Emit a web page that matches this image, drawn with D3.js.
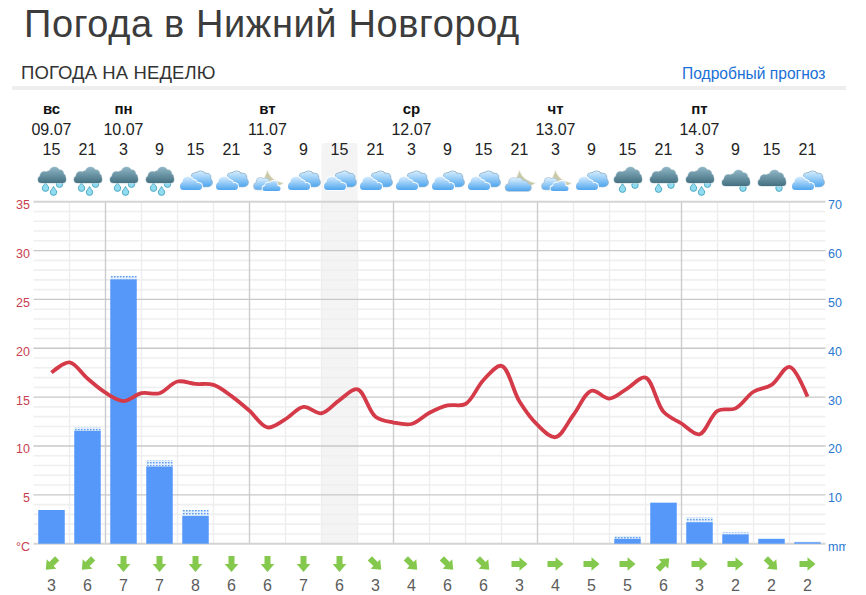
<!DOCTYPE html>
<html>
<head>
<meta charset="utf-8">
<script src="https://d3js.org/d3.v7.min.js"></script>
<style>
    html, body { margin: 0; padding: 0; background: #fff; overflow: hidden; }
    svg { display: block; font-family: "Liberation Sans", Arial, sans-serif; }
</style>
</head>
<body>
<svg id="chart" width="866" height="595"></svg>
<script>
    // подписи сверху
    let hours = [15, 21, 3, 9, 15, 21, 3, 9, 15, 21, 3, 9, 15, 21, 3, 9, 15, 21, 3, 9, 15, 21]
    let dayNames = ["вс", "пн", "вт", "ср", "чт", "пт"]
    let dayDates = ["09.07", "10.07", "11.07", "12.07", "13.07", "14.07"]
    let dayStart = [0, 2, 6, 10, 14, 18]
    let icons = ["rain3", "rain3", "rain3", "rain3", "cloud", "cloud", "moon2", "cloud", "cloud", "cloud", "cloud",
        "cloud", "cloud", "moon1", "moon2", "cloud", "rain2", "rain2", "rain3", "rain1", "rain1", "cloud"]

    // температура, шаг 3 часа (половина колонки)
    let temperature = [17.5, 18.55, 16.9, 15.45, 14.6, 15.4, 15.4, 16.6, 16.35, 16.25, 15.1, 13.6, 11.9, 12.75, 14.0,
        13.35, 14.7, 15.8, 13.0, 12.4, 12.25, 13.4, 14.15, 14.3, 16.75, 18.2, 14.55, 12.15, 10.9, 13.2, 15.65,
        14.85, 15.9, 17.0, 13.5, 12.3, 11.2, 13.6, 13.85, 15.55, 16.25, 18.1, 15.05]

    // осадки, мм
    let rain = [6.9, 23.1, 54.1, 15.8, 5.7, 0, 0, 0, 0, 0, 0, 0, 0, 0, 0, 0, 1.0, 8.4, 4.4, 1.9, 1.0, 0.3]
    let rainMax = [6.9, 23.8, 54.8, 17.1, 6.9, 0, 0, 0, 0, 0, 0, 0, 0, 0, 0, 0, 1.6, 8.4, 5.4, 2.4, 1.0, 0.4]

    // ветер
    let windSpeed = [3, 6, 7, 7, 8, 6, 6, 7, 6, 3, 4, 6, 6, 3, 4, 5, 5, 6, 3, 2, 2, 2]
    let windAngle = [45, 45, 0, 0, 0, 0, 0, 0, 0, -45, -45, -45, -45, -90, -90, -90, -90, -135, -90, -90, -45, -90]

    let tempTicks = [0, 5, 10, 15, 20, 25, 30, 35]
    let rainTicks = [10, 20, 30, 40, 50, 60, 70]
    let highlightColumn = 8

    let svg = d3.select("#chart")
    let defs = svg.append("defs")

    let plotLeft = 33.5, plotRight = 825.5, plotTop = 201.7, plotBottom = 543.7

    let x = d3.scaleLinear().domain([0, hours.length]).range([plotLeft, plotRight])
    let yTemp = d3.scaleLinear().domain([0, 35]).range([plotBottom, plotTop])
    let yRain = d3.scaleLinear().domain([0, 70]).range([plotBottom, plotTop])

    // шапка
    svg.append("text").attr("x", 24).attr("y", 36.7).attr("font-size", 38).attr("letter-spacing", 0.62)
        .attr("fill", "#3c3c3c").text("Погода в Нижний Новгород")
    svg.append("text").attr("x", 21).attr("y", 79).attr("font-size", 18.5).attr("letter-spacing", 0.1)
        .attr("fill", "#333").text("ПОГОДА НА НЕДЕЛЮ")
    svg.append("text").attr("x", 682).attr("y", 79).attr("font-size", 15.6).attr("fill", "#1a6fd6")
        .text("Подробный прогноз")
    svg.append("rect").attr("x", 12).attr("y", 86).attr("width", 834).attr("height", 4).attr("fill", "#eeeeee")

    // выделенная колонка
    svg.append("rect").attr("x", x(highlightColumn)).attr("y", 143).attr("width", x(1) - x(0))
        .attr("height", plotBottom - 143).attr("rx", 3).attr("fill", "#f4f4f4")

    // сетка
    svg.append("g").selectAll("line").data(d3.range(0, 36).filter(d => d % 5 != 0)).enter().append("line")
        .attr("x1", plotLeft).attr("x2", plotRight).attr("y1", d => yTemp(d)).attr("y2", d => yTemp(d))
        .attr("stroke", "#efefef").attr("stroke-width", 1.6)
    svg.append("g").selectAll("line").data(d3.range(1, hours.length)).enter().append("line")
        .attr("x1", d => x(d)).attr("x2", d => x(d)).attr("y1", plotTop).attr("y2", plotBottom)
        .attr("stroke", d => dayStart.includes(d) ? "#cccccc" : "#eeeeee")
        .attr("stroke-width", 1.4)
    svg.append("g").selectAll("line").data(tempTicks).enter().append("line")
        .attr("x1", plotLeft).attr("x2", plotRight).attr("y1", d => yTemp(d)).attr("y2", d => yTemp(d))
        .attr("stroke", d => d == 0 || d == 35 ? "#d4d4d4" : "#c8c8c8")
        .attr("stroke-width", d => d == 0 || d == 35 ? 2 : 1.3)

    // оси
    let axisLeft = d3.axisLeft(yTemp).tickValues(tempTicks).tickSize(0).tickPadding(0)
        .tickFormat(d => d == 0 ? "°C" : d)
    let gLeft = svg.append("g").attr("transform", "translate(" + 30 + ",3)").call(axisLeft)
    gLeft.select(".domain").remove()
    gLeft.selectAll("text").attr("font-family", "Liberation Sans").attr("font-size", 12.5).attr("fill", "#c8404f")

    defs.append("clipPath").attr("id", "pageClip").append("rect").attr("width", 846).attr("height", 595)
    let axisRight = d3.axisRight(yRain).tickValues([0].concat(rainTicks)).tickSize(0).tickPadding(0)
        .tickFormat(d => d == 0 ? "mm" : d)
    let gRight = svg.append("g").attr("clip-path", "url(#pageClip)").append("g")
        .attr("transform", "translate(" + 828 + ",3)").call(axisRight)
    gRight.select(".domain").remove()
    gRight.selectAll("text").attr("font-family", "Liberation Sans").attr("font-size", 12.5).attr("fill", "#2a78d2")

    // столбики
    let pattern = defs.append("pattern").attr("id", "dots").attr("patternUnits", "userSpaceOnUse")
        .attr("width", 3).attr("height", 3)
    pattern.append("rect").attr("width", 3).attr("height", 3).attr("fill", "#e4effd")
    pattern.append("rect").attr("width", 1.6).attr("height", 1.4).attr("fill", "#5d9cf0")

    let barWidth = 26.5
    svg.append("g").selectAll("rect").data(rainMax.map((d, i) => [d, rain[i], i]).filter(d => d[0] > d[1])).enter()
        .append("rect")
        .attr("x", d => x(d[2] + 0.5) - barWidth / 2).attr("width", barWidth)
        .attr("y", d => yRain(d[0])).attr("height", d => yRain(d[1]) - yRain(d[0]))
        .attr("fill", "url(#dots)")
    svg.append("g").selectAll("rect").data(rain.map((d, i) => [d, i]).filter(d => d[0] > 0)).enter()
        .append("rect")
        .attr("x", d => x(d[1] + 0.5) - barWidth / 2).attr("width", barWidth)
        .attr("y", d => yRain(d[0])).attr("height", d => plotBottom - yRain(d[0]))
        .attr("fill", "#5598f9")

    // температура
    let line = d3.line().x((d, i) => x(0.5 + i / 2)).y(d => yTemp(d)).curve(d3.curveCatmullRom.alpha(0.5))
    svg.append("path").datum(temperature).attr("d", line).attr("fill", "none")
        .attr("stroke", "#d43a48").attr("stroke-width", 3.8).attr("stroke-linejoin", "round")

    // дни и часы
    let head = svg.append("g").attr("text-anchor", "middle")
    head.selectAll(".day").data(dayNames).enter().append("text").attr("class", "day")
        .attr("x", (d, i) => x(dayStart[i] + 0.5)).attr("y", 114).attr("font-size", 15).attr("font-weight", "bold")
        .attr("fill", "#111").text(d => d)
    head.selectAll(".date").data(dayDates).enter().append("text").attr("class", "date")
        .attr("x", (d, i) => x(dayStart[i] + 0.5)).attr("y", 134.5).attr("font-size", 16).attr("fill", "#222").text(d => d)
    head.selectAll(".hour").data(hours).enter().append("text").attr("class", "hour")
        .attr("x", (d, i) => x(i + 0.5)).attr("y", 154.5).attr("font-size", 16).attr("fill", "#222").text(d => d)

    // ветер внизу
    let wind = svg.append("g")
    wind.selectAll("path").data(windAngle).enter().append("path")
        .attr("d", "M-3,-8 L3,-8 L3,0 L6.8,0 L0,8 L-6.8,0 L-3,0 Z")
        .attr("transform", (d, i) => "translate(" + x(i + 0.5) + ",564) rotate(" + d + ")")
        .attr("fill", "#84c84e")
    wind.selectAll("text").data(windSpeed).enter().append("text")
        .attr("x", (d, i) => x(i + 0.5)).attr("y", 591).attr("text-anchor", "middle")
        .attr("font-size", 16).attr("fill", "#5c5c5c").text(d => d)

    // значки погоды
    function gradient(id, y1, y2, c1, c2) {
        let g = defs.append("linearGradient").attr("id", id).attr("gradientUnits", "userSpaceOnUse")
            .attr("x1", 0).attr("x2", 0).attr("y1", y1).attr("y2", y2)
        g.append("stop").attr("offset", 0).attr("stop-color", c1)
        g.append("stop").attr("offset", 1).attr("stop-color", c2)
    }
    gradient("backCloud", -9, 6, "#d8eefd", "#55a9f0")
    gradient("frontCloud", -4, 10, "#dcf0fe", "#4fa5ef")
    gradient("smallCloud", -2, 11, "#dcf0fe", "#4fa5ef")
    gradient("darkCloud", -13, 3, "#8fb6c6", "#44707f")

    // облако: плоское основание и несколько шапок сверху
    function cloud(g, base, tops, fill, edge, rim) {
        let bx = base[0], by = base[1], bw = base[2], bh = base[3]
        g.append("rect").attr("x", bx - rim).attr("y", by - rim).attr("width", bw + 2 * rim).attr("height", bh + 2 * rim)
            .attr("rx", bh / 2 + rim).attr("fill", edge)
        g.selectAll(null).data(tops).enter().append("circle")
            .attr("cx", d => d[0]).attr("cy", d => d[1]).attr("r", d => d[2] + rim).attr("fill", edge)
        g.append("rect").attr("x", bx).attr("y", by).attr("width", bw).attr("height", bh)
            .attr("rx", bh / 2).attr("fill", fill)
        g.selectAll(null).data(tops).enter().append("circle")
            .attr("cx", d => d[0]).attr("cy", d => d[1]).attr("r", d => d[2]).attr("fill", fill)
    }
    function drop(g, cx, cy) {
        g.append("path").attr("d", "M" + cx + "," + (cy - 4.5) + " C" + (cx + 1) + "," + (cy - 2) + " " + (cx + 3.2) + "," + (cy - 1) + " " + (cx + 3.2) + "," + (cy + 1.2)
            + " A3.2,3.2 0 1 1 " + (cx - 3.2) + "," + (cy + 1.2) + " C" + (cx - 3.2) + "," + (cy - 1) + " " + (cx - 1) + "," + (cy - 2) + " " + cx + "," + (cy - 4.5) + " Z")
            .attr("fill", "#8fdcf0").attr("stroke", "#45a0bb").attr("stroke-width", 0.9)
    }
    function moon(g, dx) {
        g.append("path").attr("d", "M" + dx + ",-10 C" + (dx + 2) + ",-3 " + (dx + 7) + ",1 " + (dx + 16) + ",3 C" + (dx + 11) + ",8 " + (dx + 1) + ",7 " + (dx - 4) + ",0 Z")
            .attr("fill", "#c9c9aa").attr("stroke", "#f0f0e6").attr("stroke-width", 0.8)
    }

    function drawIcon(name, g) {
        if (name == "cloud") {
            cloud(g, [-6, -2, 22.5, 8.5], [[0, -3, 4], [5, -3.5, 5.2], [11, -2.5, 4]], "url(#backCloud)", "#8fb2cc", 0.8)
            cloud(g, [-15.5, 3, 22, 7], [[-7.5, 2, 5.5], [-2, 3.5, 3.5], [-12, 5, 3]], "url(#frontCloud)", "#ffffff", 1)
        } else if (name == "moon1") {
            moon(g, 0)
            cloud(g, [-14, 4, 25.5, 7], [[-6, 2.5, 4.5], [-1, 2.5, 4.5], [5, 4, 3]], "url(#smallCloud)", "#a8c2d4", 0.8)
        } else if (name == "moon2") {
            moon(g, 0)
            cloud(g, [-13.5, 3, 17, 6.5], [[-7, 2, 4], [-2, 2, 3.5]], "url(#smallCloud)", "#a8c2d4", 0.8)
            cloud(g, [-5, 6, 18, 5], [[1, 6, 3.5], [6, 5, 4]], "url(#smallCloud)", "#ffffff", 0.9)
        } else {
            let count = +name.slice(4)
            let dy = count == 1 ? 3 : 0
            if (count == 3) { drop(g, 8, 3); drop(g, -6, 7); drop(g, 2, 11); }
            if (count == 2) { drop(g, 7.5, 4); drop(g, -5, 8); }
            if (count == 1) { drop(g, 7.5, 7); }
            let c = g.append("g").attr("transform", "translate(0," + dy + ")")
            cloud(c, [-13.5, -4, 28, 7], [[-7, -4, 4.5], [-2, -5, 4.2], [3, -8, 5], [8, -6, 4.2], [11, -3, 3]], "url(#darkCloud)", "#c6d6dc", 0.6)
        }
    }

    icons.forEach((name, i) => {
        let g = svg.append("g").attr("transform", "translate(" + x(i + 0.5) + ",180)")
        drawIcon(name, g)
    })
</script>
</body>
</html>
